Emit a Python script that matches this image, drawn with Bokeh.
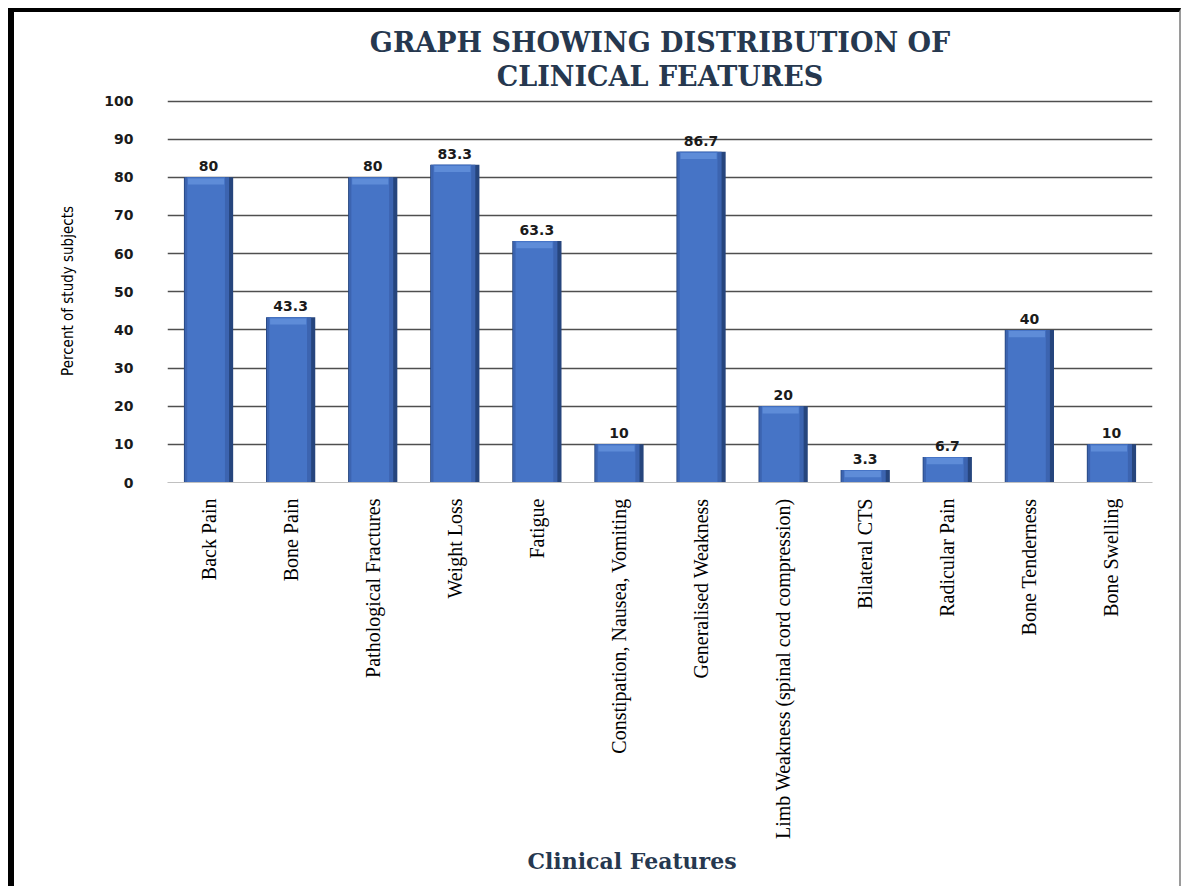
import math
from bokeh.plotting import figure
from bokeh.models import ColumnDataSource, FactorRange, Range1d, FixedTicker, Title
from bokeh.core.properties import value
from bokeh.transform import dodge
from bokeh.embed import file_html
from bokeh.resources import INLINE

categories = ["Back Pain", "Bone Pain", "Pathological Fractures", "Weight Loss", "Fatigue",
              "Constipation, Nausea, Vomiting", "Generalised Weakness",
              "Limb Weakness (spinal cord compression)", "Bilateral CTS", "Radicular Pain",
              "Bone Tenderness", "Bone Swelling"]
values = [80, 43.3, 80, 83.3, 63.3, 10, 86.7, 20, 3.3, 6.7, 40, 10]
value_labels = ["80", "43.3", "80", "83.3", "63.3", "10", "86.7", "20", "3.3", "6.7", "40", "10"]
y_ticks = [0, 10, 20, 30, 40, 50, 60, 70, 80, 90, 100]
title_lines = ["GRAPH SHOWING DISTRIBUTION OF", "CLINICAL FEATURES"]
x_title = "Clinical Features"
y_title = "Percent of study subjects"

src = ColumnDataSource(dict(cat=categories, val=values, lab=value_labels))

p = figure(x_range=FactorRange(*categories, range_padding=0), y_range=Range1d(0, 100.4),
           width=1173, height=878, output_backend="svg", toolbar_location=None, title=None,
           min_border_left=153, min_border_right=35, min_border_top=87, min_border_bottom=408)
p.styles = {"border-left": "6px solid black", "border-top": "4px solid black",
            "border-right": "2px solid #9a9a9a", "margin-left": "8px", "margin-top": "8px"}

title_color = "#26384f"
# closest to the frame first
p.add_layout(Title(text=title_lines[1], align="center", text_font="DejaVu Serif",
                   text_font_style="bold", text_font_size="27px", text_color=title_color,
                   standoff=15), "above")
p.add_layout(Title(text=title_lines[0], align="center", text_font="DejaVu Serif",
                   text_font_style="bold", text_font_size="27px", text_color=title_color,
                   standoff=-12), "above")

p.outline_line_color = None
p.background_fill_color = "white"
p.border_fill_color = "white"

# bars with simple bevel shading
p.vbar(x="cat", top="val", width=0.60, source=src, fill_color="#26457d", line_color=None)
p.vbar(x=dodge("cat", -0.02, range=p.x_range), top="val", width=0.54, source=src,
       fill_color="#3c64b0", line_color=None)
p.vbar(x=dodge("cat", -0.03, range=p.x_range), top="val", width=0.46, source=src,
       fill_color="#4674c6", line_color=None)
p.vbar(x=dodge("cat", -0.03, range=p.x_range), top=dodge("val", -0.3),
       bottom=dodge("val", -1.9), width=0.44, source=src,
       fill_color="#5e8cd8", line_color=None)

p.text(x="cat", y="val", text="lab", source=src, text_align="center", text_baseline="bottom",
       y_offset=-6, text_font_size="14px", text_font_style="bold", text_color="#1b1b1b",
       text_font=value("DejaVu Sans"))

# axes
p.yaxis.ticker = FixedTicker(ticks=y_ticks)
p.yaxis.axis_line_color = None
p.yaxis.major_tick_line_color = None
p.yaxis.minor_tick_line_color = None
p.yaxis.major_label_standoff = 28
p.yaxis.major_label_text_font = "DejaVu Sans"
p.yaxis.major_label_text_font_style = "bold"
p.yaxis.major_label_text_font_size = "14px"
p.yaxis.major_label_text_color = "#1b1b1b"
p.yaxis.axis_label = y_title
p.yaxis.axis_label_text_font = "'Liberation Sans Narrow', 'DejaVu Sans Condensed', 'Liberation Sans', sans-serif"
p.yaxis.axis_label_text_font_style = "normal"
p.yaxis.axis_label_text_font_size = "15px"
p.yaxis.axis_label_text_color = "black"
p.yaxis.axis_label_standoff = 24

p.xaxis.axis_line_color = "#c0c0c0"
p.xaxis.axis_line_width = 1.2
p.xaxis.major_tick_line_color = None
p.xaxis.minor_tick_line_color = None
p.xaxis.major_label_orientation = math.pi / 2
p.xaxis.major_label_standoff = 10
p.xaxis.major_label_text_font = "Liberation Serif"
p.xaxis.major_label_text_font_size = "20px"
p.xaxis.major_label_text_color = "black"

p.xgrid.grid_line_color = None
p.ygrid.grid_line_color = "#4f4f4f"
p.ygrid.grid_line_width = 1.3

p.add_layout(Title(text=x_title, align="left", offset=360, text_font="DejaVu Serif",
                   text_font_style="bold", text_font_size="22px", text_color=title_color,
                   standoff=7), "below")

open("out.html", "w").write(file_html(p, INLINE))
